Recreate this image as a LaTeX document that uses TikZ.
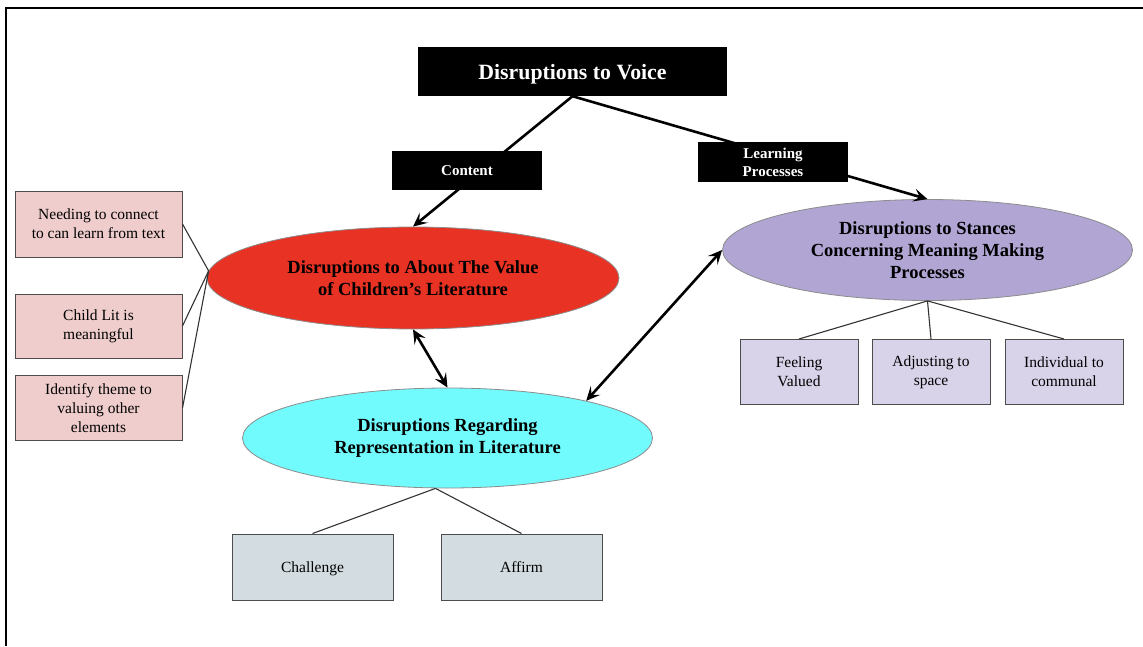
\documentclass[tikz,border=0pt]{standalone}
\usepackage{fontspec}
\setmainfont{Liberation Serif}
\usetikzlibrary{arrows.meta,shapes.geometric}

\definecolor{valuered}{RGB}{232,50,35}
\definecolor{stancepurple}{RGB}{176,165,211}
\definecolor{reprcyan}{RGB}{114,251,253}
\definecolor{pinkleaf}{RGB}{238,205,204}
\definecolor{lavleaf}{RGB}{217,211,233}
\definecolor{grayleaf}{RGB}{211,221,225}

\begin{document}
\begin{tikzpicture}[x=1pt,y=-1pt,
  headbox/.style={fill=black, text=white, font=\bfseries\fontsize{21.8}{26}\selectfont,
    minimum width=309pt, minimum height=49pt, inner sep=0pt, text height=17pt, text depth=2pt},
  tagbox/.style={fill=black, text=white, font=\bfseries\fontsize{15}{18}\selectfont,
    minimum width=150pt, minimum height=39pt, inner sep=0pt, align=center},
  bubble/.style={ellipse, draw=black!45, line width=0.8pt, inner sep=0pt, align=center,
    font=\bfseries\fontsize{18.5}{22}\selectfont},
  leaf/.style={draw=black!70, line width=1pt, inner sep=0pt, align=center,
    font=\fontsize{15.5}{19}\selectfont},
  oneline/.style={text height=12pt, text depth=1pt},
  link/.style={draw=black!80, line width=1.1pt},
  flow/.style={line width=2.6pt, -{Stealth[length=14pt,width=13pt,inset=6pt]}},
  twoway/.style={line width=2.6pt,
    {Stealth[length=14pt,width=13pt,inset=6pt]}-{Stealth[length=14pt,width=13pt,inset=6pt]}}
]
\useasboundingbox (0,0) rectangle (1143,646);

% page frame
\draw[line width=1.8pt] (6,646) -- (6,8) -- (1143,8);

% main heading
\node[headbox] (voice) at (572.5,71.5) {Disruptions to Voice};

% three themes
\node[bubble, fill=valuered, minimum width=412pt, minimum height=102pt] (value) at (413,278)
  {Disruptions to About The Value\\of Children’s Literature};
\node[bubble, fill=stancepurple, minimum width=410pt, minimum height=101pt] (stance) at (927.5,250)
  {Disruptions to Stances\\Concerning Meaning Making\\Processes};
\node[bubble, fill=reprcyan, minimum width=410pt, minimum height=100pt] (repr) at (447.5,438)
  {Disruptions Regarding\\Representation in Literature};

% sub-themes of value
\node[leaf, fill=pinkleaf, minimum width=167pt, minimum height=66pt] (need) at (98.5,224)
  {Needing to connect\\to can learn from text};
\node[leaf, fill=pinkleaf, minimum width=167pt, minimum height=64pt] (child) at (98.5,326)
  {Child Lit is\\meaningful};
\node[leaf, fill=pinkleaf, minimum width=167pt, minimum height=65pt] (theme) at (98.5,408)
  {Identify theme to\\valuing other\\elements};

% sub-themes of stances
\node[leaf, fill=lavleaf, minimum width=118pt, minimum height=65pt] (feel) at (799,372)
  {Feeling\\Valued};
\node[leaf, fill=lavleaf, minimum width=118pt, minimum height=65pt] (adjust) at (931,372)
  {Adjusting to\\space};
\node[leaf, fill=lavleaf, minimum width=118pt, minimum height=65pt] (indiv) at (1064,372)
  {Individual to\\communal};

% sub-themes of representation
\node[leaf, oneline, fill=grayleaf, minimum width=161pt, minimum height=66pt] (chal) at (312.5,567)
  {Challenge};
\node[leaf, oneline, fill=grayleaf, minimum width=161pt, minimum height=66pt] (aff) at (521.5,567)
  {Affirm};

% tree links
\draw[link] (need.east) -- (value.178);
\draw[link] (child.east) -- (value.178);
\draw[link] (theme.east) -- (value.178);
\draw[link] (stance.south) -- (feel.north);
\draw[link] (stance.south) -- (adjust.north);
\draw[link] (stance.south) -- (indiv.north);
\coordinate (reprfoot) at ([xshift=-12pt]repr.south);
\draw[link] (reprfoot) -- (chal.north);
\draw[link] (reprfoot) -- (aff.north);

% arrows
\draw[flow] (voice.south) -- (value.north);
\draw[flow] (voice.south) -- (stance.north);
\draw[twoway] (value.south) -- (repr.north);
\draw[twoway] (repr.15) -- (stance.west);

% labels on the heading arrows
\node[tagbox, text height=11pt, text depth=1pt] (content) at (467,170.5) {Content};
\node[tagbox, minimum height=40pt] (learn) at (773,162) {Learning\\Processes};
\end{tikzpicture}
\end{document}
